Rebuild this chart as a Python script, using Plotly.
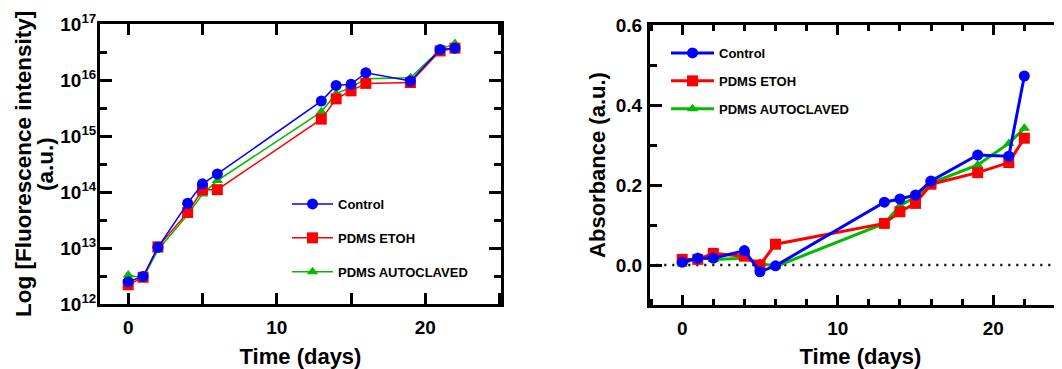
import plotly.graph_objects as go

# ---------------- data ----------------
days = [0, 1, 2, 4, 5, 6, 13, 14, 15, 16, 19, 21, 22]

fluor_control = [2.5e12, 3.1e12, 1.03e13, 6.3e13, 1.4e14, 2.1e14, 4.2e15, 8.0e15, 8.4e15, 1.35e16, 9.6e15, 3.5e16, 3.7e16]
fluor_etoh = [2.2e12, 3.0e12, 1.05e13, 4.3e13, 1.1e14, 1.1e14, 2.0e15, 4.6e15, 6.4e15, 8.7e15, 9.0e15, 3.3e16, 3.7e16]
fluor_autoclaved = [3.3e12, 2.9e12, 9.2e12, 3.9e13, 9.2e13, 1.6e14, 2.7e15, 5.7e15, 7.4e15, 1.05e16, 1.1e16, 3.5e16, 4.5e16]

abs_control = [0.007, 0.017, 0.017, 0.036, -0.017, -0.002, 0.157, 0.165, 0.175, 0.21, 0.275, 0.272, 0.4725]
abs_etoh = [0.014, 0.014, 0.029, 0.022, 0.0, 0.052, 0.104, 0.133, 0.154, 0.202, 0.231, 0.256, 0.317]
abs_autoclaved = [0.002, 0.02, 0.014, 0.017, 0.005, -0.004, 0.104, 0.148, 0.17, 0.205, 0.25, 0.304, 0.342]

series_names = ["Control", "PDMS ETOH", "PDMS AUTOCLAVED"]
log_tickvals = [1e12, 1e13, 1e14, 1e15, 1e16, 1e17]
log_ticktext = ["10<sup>12</sup>", "10<sup>13</sup>", "10<sup>14</sup>", "10<sup>15</sup>", "10<sup>16</sup>", "10<sup>17</sup>"]
log_minor = [10 ** (e + 0.5) for e in range(12, 17)]
abs_tickvals = [0, 0.2, 0.4, 0.6]
abs_ticktext = ["0.0", "0.2", "0.4", "0.6"]
day_tickvals = [0, 10, 20]

# ---------------- styles ----------------
colors = {"Control": "#0000FF", "PDMS ETOH": "#FF0000", "PDMS AUTOCLAVED": "#00BB00"}
symbols = {"Control": "circle", "PDMS ETOH": "square", "PDMS AUTOCLAVED": "triangle-up"}
rank = {"Control": 1, "PDMS ETOH": 2, "PDMS AUTOCLAVED": 3}
FONT = "Liberation Sans, Arial, sans-serif"

# page body has an 8px margin; figure coordinates below are viewport - 8
W, H = 1080, 361

fig = go.Figure()

left_vals = {"Control": fluor_control, "PDMS ETOH": fluor_etoh, "PDMS AUTOCLAVED": fluor_autoclaved}
right_vals = {"Control": abs_control, "PDMS ETOH": abs_etoh, "PDMS AUTOCLAVED": abs_autoclaved}

draw_order = ["PDMS AUTOCLAVED", "PDMS ETOH", "Control"]
for name in draw_order:
    fig.add_trace(go.Scatter(
        x=days, y=left_vals[name], name=name, mode="lines+markers",
        xaxis="x", yaxis="y", legend="legend",
        legendgroup="L" + name, legendrank=rank[name],
        line=dict(color=colors[name], width=1.5),
        marker=dict(symbol=symbols[name], size=11 if name != "PDMS AUTOCLAVED" else 10,
                    color=colors[name], line=dict(width=0)),
    ))
for name in draw_order:
    fig.add_trace(go.Scatter(
        x=days, y=right_vals[name], name=name, mode="lines+markers",
        xaxis="x2", yaxis="y2", legend="legend2",
        legendgroup="R" + name, legendrank=rank[name],
        line=dict(color=colors[name], width=3),
        marker=dict(symbol=symbols[name], size=11 if name != "PDMS AUTOCLAVED" else 10,
                    color=colors[name], line=dict(width=0)),
    ))

tickfont = dict(family=FONT, size=19, color="black", weight="bold")
titlefont = dict(family=FONT, size=22, color="black", weight="bold")
axis_common = dict(showline=True, linewidth=3, linecolor="black", mirror="ticks",
                   ticks="inside", tickwidth=3, tickcolor="black", showgrid=False,
                   zeroline=False, tickfont=tickfont, automargin=False)

ydom_l = [1 - 296 / H, 1 - 16 / H]
ydom_r = [1 - 297 / H, 1 - 17 / H]

fig.update_layout(
    width=W, height=H, autosize=False,
    margin=dict(l=0, r=0, t=0, b=0, autoexpand=False),
    paper_bgcolor="white", plot_bgcolor="white",
    font=dict(family=FONT, color="black"),
    xaxis=dict(domain=[92 / W, 493 / W], anchor="y", range=[-1.9, 25.1],
               tickmode="array", tickvals=day_tickvals, ticklen=11,
               minor=dict(tickmode="array", tickvals=[5, 15, 25], ticks="inside", ticklen=11,
                          tickwidth=3, tickcolor="black"),
               title=dict(text="Time (days)", font=titlefont, standoff=12),
               ticklabelstandoff=4,
               **axis_common),
    yaxis=dict(domain=ydom_l, anchor="x", type="log", range=[12, 17],
               tickmode="array", tickvals=log_tickvals, ticktext=log_ticktext, ticklen=12,
               minor=dict(tickmode="array", tickvals=log_minor, ticks="inside", ticklen=7,
                          tickwidth=3, tickcolor="black"),
               ticklabelstandoff=-3,
               **axis_common),
    xaxis2=dict(domain=[642 / W, 1063 / W], anchor="y2", range=[-2.07, 25],
                tickmode="array", tickvals=day_tickvals, ticklen=10,
                minor=dict(dtick=2, tick0=0, ticks="inside", ticklen=6, tickwidth=3, tickcolor="black"),
                title=dict(text="Time (days)", font=titlefont, standoff=12),
                ticklabelstandoff=4,
                **axis_common),
    yaxis2=dict(domain=ydom_r, anchor="x2", range=[-0.1, 0.6],
                tickmode="array", tickvals=abs_tickvals, ticktext=abs_ticktext,
                ticklen=12,
                minor=dict(tickmode="array", tickvals=[0.1, 0.3, 0.5], ticks="inside", ticklen=7,
                           tickwidth=3, tickcolor="black"),
                title=dict(text="Absorbance (a.u.)", font=titlefont, standoff=5),
                ticklabelstandoff=1,
                **axis_common),
    legend=dict(x=279 / W, y=1 - 181 / H, xanchor="left", yanchor="top",
                bgcolor="rgba(0,0,0,0)", traceorder="grouped", tracegroupgap=14,
                itemwidth=41,
                font=dict(family=FONT, size=13, color="black", weight="bold")),
    legend2=dict(x=658 / W, y=1 - 30 / H, xanchor="left", yanchor="top",
                 bgcolor="rgba(0,0,0,0)", traceorder="grouped", tracegroupgap=8,
                 itemwidth=43,
                 font=dict(family=FONT, size=13, color="black", weight="bold")),
    showlegend=True,
)

# left y-axis title (two lines)
ytitle_font = dict(family=FONT, size=22.5, color="black", weight="bold")
fig.add_annotation(text="Log [Fluorescence intensity]", xref="paper", yref="paper",
                   x=15 / W, y=1 - 156 / H, xanchor="center", yanchor="middle",
                   textangle=-90, showarrow=False, font=ytitle_font)
fig.add_annotation(text="(a.u.)", xref="paper", yref="paper",
                   x=37 / W, y=1 - 156 / H, xanchor="center", yanchor="middle",
                   textangle=-90, showarrow=False, font=ytitle_font)

# dotted zero line in right panel
fig.add_shape(type="line", xref="x2 domain", yref="y2", x0=0.015, x1=1, y0=0, y1=0,
              line=dict(color="black", width=2.5, dash="2px,6px"), layer="below")

fig.write_html("out.html")
